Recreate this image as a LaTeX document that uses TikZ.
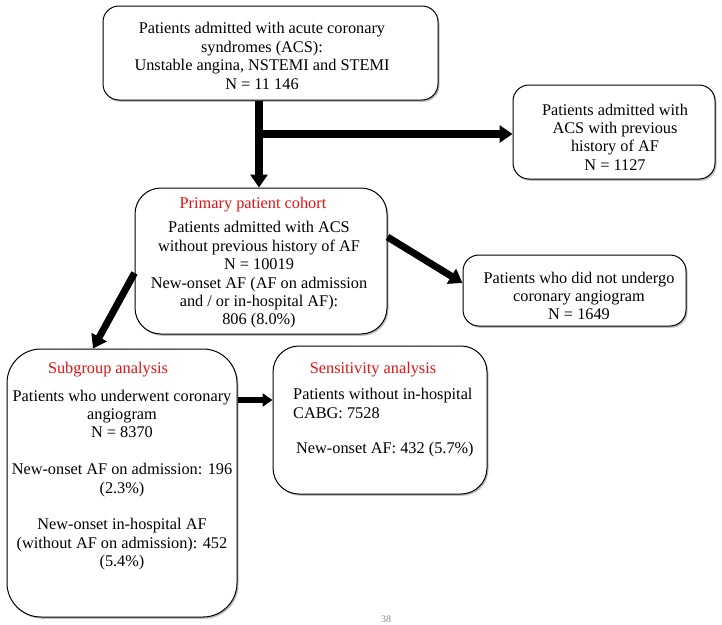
\documentclass[tikz,border=0pt]{standalone}
\usepackage{fontspec}
\setmainfont{Liberation Serif}
\usetikzlibrary{arrows.meta,shadows}
\definecolor{titlered}{RGB}{228,18,18}
\begin{document}
\begin{tikzpicture}[x=1pt,y=-1pt,
  box/.style={draw=black, line width=1pt, rounded corners=#1, fill=white, inner sep=0pt,
    drop shadow={shadow xshift=1.5pt, shadow yshift=-1.8pt, fill=black!45, opacity=0.55}},
  txt/.style={align=center, inner sep=0pt, font=\fontsize{16.3}{18.4}\selectfont},
  ltxt/.style={inner sep=0pt, font=\fontsize{16.3}{18.4}\selectfont, anchor=base west},
  ttl/.style={inner sep=0pt, font=\fontsize{16.3}{18.4}\selectfont, text=titlered},
  bigarrow/.style={line width=8pt, -{Triangle[width=17pt,length=13pt]}},
  midarrow/.style={line width=7pt, -{Triangle[width=17pt,length=13pt]}},
  smallarrow/.style={line width=6pt, -{Triangle[width=13pt,length=10pt]}}]
\useasboundingbox (0,0) rectangle (722,624);
\fill[white] (0,0) rectangle (722,624);

% boxes
\node[box=16pt, minimum width=335pt, minimum height=94pt] (top) at (270.5,53) {};
\node[box=16pt, minimum width=202pt, minimum height=94pt] (rtop) at (614,132) {};
\node[box=26pt, minimum width=252pt, minimum height=146pt] (prim) at (261,261) {};
\node[box=16pt, minimum width=223pt, minimum height=71pt] (rlow) at (574.5,290.5) {};
\node[box=34pt, minimum width=230pt, minimum height=268pt] (sub) at (122,483) {};
\node[box=26pt, minimum width=214pt, minimum height=148pt] (sens) at (380,420) {};

% texts
\node[txt] (toptxt) at (262,56) {Patients admitted with acute coronary\\syndromes (ACS):\\Unstable angina, NSTEMI and STEMI\\N = 11 146};
\node[txt] (rtoptxt) at (615,137) {Patients admitted with\\ACS with previous\\history of AF\\N = 1127};
\node[ttl] (primttl) at (253,205) {Primary patient cohort};
\node[txt] (primtxt) at (259,275) {Patients admitted with ACS\\without previous history of AF\\N = 10019\\New-onset AF (AF on admission\\and / or in-hospital AF):\\806 (8.0\%)};
\node[txt] (rlowtxt) at (579,296) {Patients who did not undergo\\coronary angiogram\\N = 1649};
\node[ttl] (subttl) at (108,370) {Subgroup analysis};
\node[txt] (subtxt) at (122,480) {Patients who underwent coronary\\angiogram\\N = 8370\\[18.4pt]New-onset AF on admission: 196\\(2.3\%)\\[18.4pt]New-onset in-hospital AF\\(without AF on admission): 452\\(5.4\%)};
\node[ttl] (sensttl) at (373,370) {Sensitivity analysis};
\node[ltxt] (sens1) at (293,399) {Patients without in-hospital};
\node[ltxt] (sens2) at (293,418) {CABG: 7528};
\node[ltxt] (sens3) at (296,453) {New-onset AF: 432 (5.7\%)};

% page number
\node[inner sep=0pt, font=\fontsize{10}{12}\selectfont, text=black!45, anchor=base] (pagenum) at (386,622) {38};

% connectors
\coordinate (branch) at (259,134);
\draw[bigarrow] (top.south -| branch) -- (prim.north -| branch);
\draw[bigarrow] (branch) -- (rtop.west |- branch);
\draw[midarrow] ([yshift=24pt]prim.east) -- ([yshift=7.5pt]rlow.west);
\draw[midarrow] ([yshift=-12pt]prim.west) -- ([xshift=-29pt]sub.north);
\draw[smallarrow] ([yshift=83pt]sub.east) -- ([yshift=20pt]sens.west);
\end{tikzpicture}
\end{document}
